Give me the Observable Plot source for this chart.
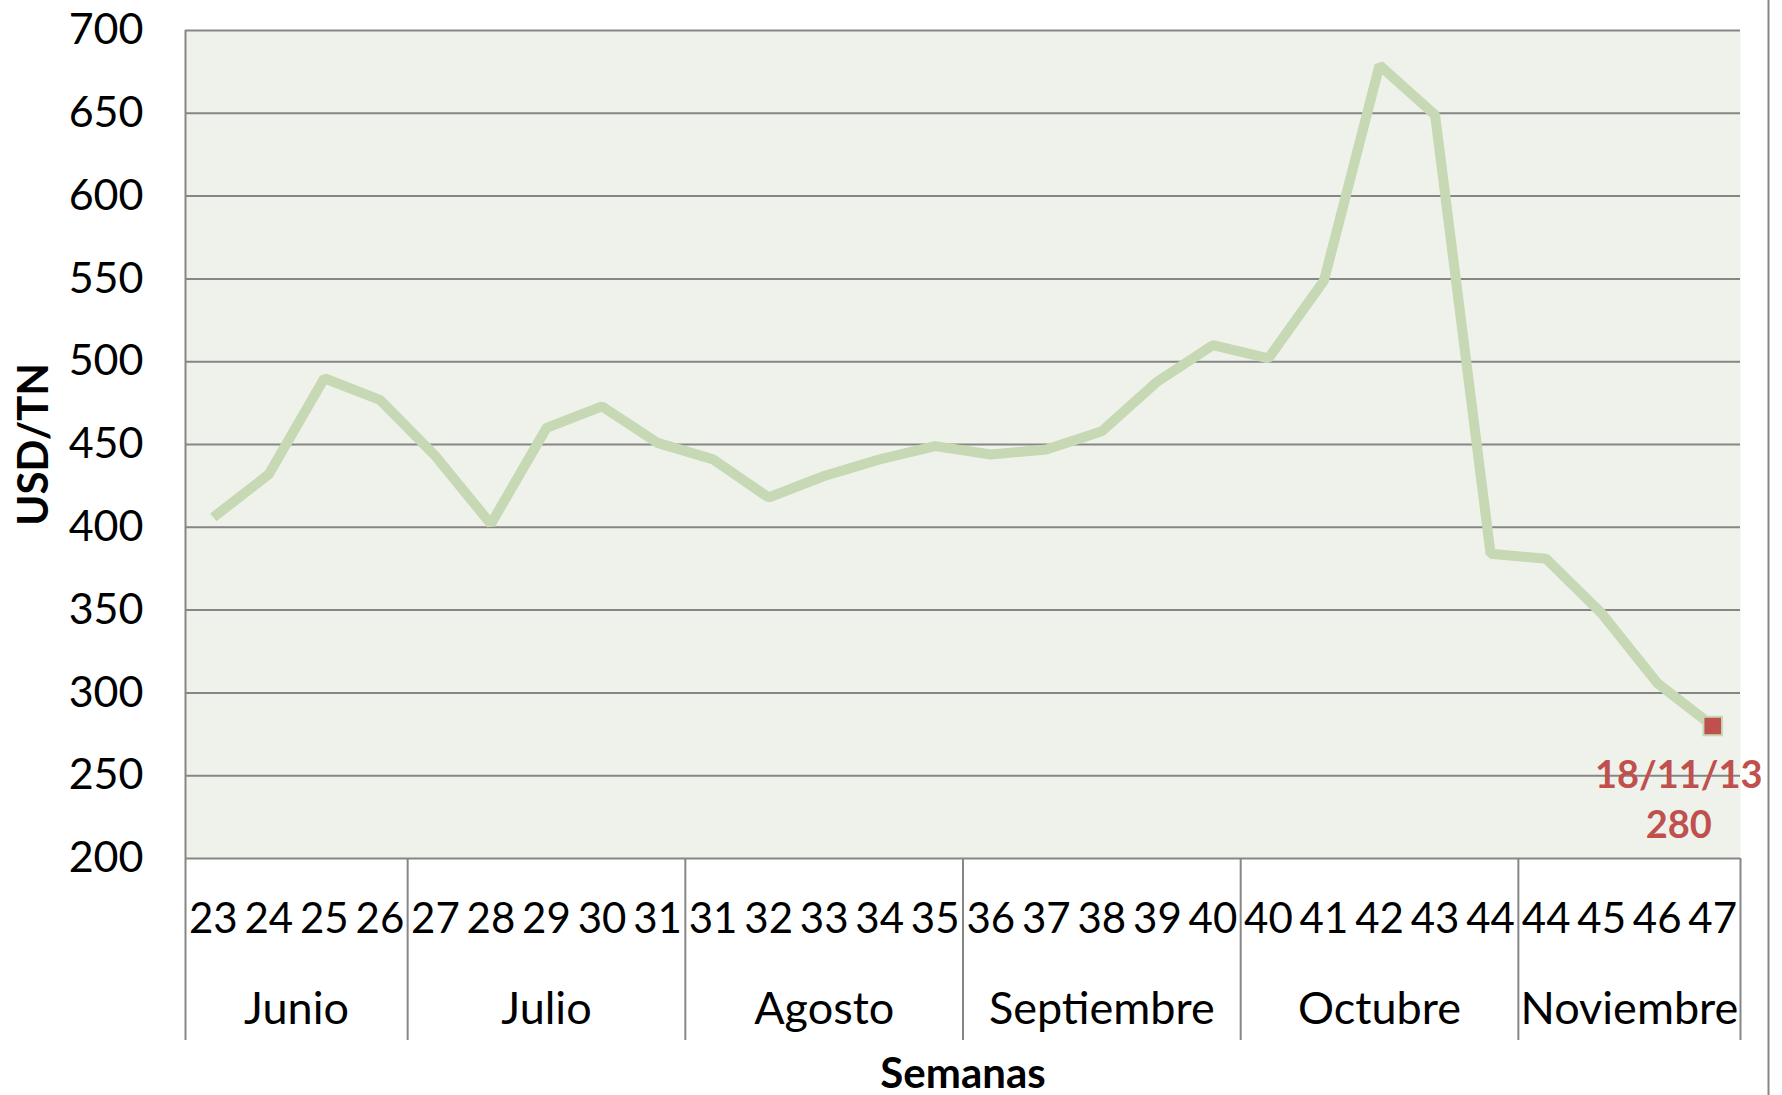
<!DOCTYPE html>
<html>
<head>
<meta charset="utf-8">
<script src="https://cdn.jsdelivr.net/npm/d3@7"></script>
<script src="https://cdn.jsdelivr.net/npm/@observablehq/plot@0.6"></script>
<style>
  html, body { margin: 0; padding: 0; background: #fff; }
  #chart svg { display: block; }
</style>
</head>
<body>
<div id="chart"></div>
<script>
// Week labels (categories), in order
const weeks = ["23","24","25","26","27","28","29","30","31","31","32","33","34","35","36","37","38","39","40","40","41","42","43","44","44","45","46","47"];
// Prices USD/TN
const prices = [406,432,490,477,443,402,460,473,451,441,418,431,441,449,444,447,458,488,510,502,549,679,649,384,381,348,306,280];
// Month groups
const months = ["Junio","Julio","Agosto","Septiembre","Octubre","Noviembre"];
const monthCounts = [4,5,5,5,5,4];
// Y ticks
const yTicks = [200,250,300,350,400,450,500,550,600,650,700];
// Last point annotation
const lastDate = "18/11/13";

const data = weeks.map((w, i) => ({i, week: w, price: prices[i]}));
let start = 0;
const monthData = months.map((m, k) => {
  const s = start, e = start + monthCounts[k] - 1;
  start += monthCounts[k];
  return {month: m, mid: (s + e) / 2, lo: s - 0.5, hi: e + 0.5};
});
const boundaries = [monthData[0].lo, ...monthData.map(d => d.hi)];
const last = data[data.length - 1];

const font = "Lato, 'Open Sans', sans-serif";
const grid = "#868686";
const red = "#C0504D";
const lineColor = "#C6D8B4";

const chart = Plot.plot({
  width: 1782,
  height: 1095,
  marginLeft: 185,
  marginRight: 42,
  marginTop: 30,
  marginBottom: 237,
  style: {fontFamily: font, color: "#000", background: "#fff"},
  x: {domain: [-0.5, weeks.length - 0.5], axis: null},
  y: {domain: [200, 700], axis: null},
  marks: [
    Plot.frame({fill: "#EFF2EA", stroke: null}),
    Plot.ruleY(yTicks, {stroke: grid, strokeWidth: 2}),
    // month separators extending into the category axis area
    Plot.ruleX(boundaries, {stroke: grid, strokeWidth: 2, insetTop: 828, insetBottom: -182}),
    Plot.ruleX([boundaries[0]], {stroke: grid, strokeWidth: 2}),
    // outer chart border on the right
    Plot.ruleX([boundaries[boundaries.length - 1]], {stroke: grid, strokeWidth: 2, dx: 28, insetTop: -30, insetBottom: -237}),
    // y tick labels
    Plot.text(yTicks, {y: d => d, text: d => String(d), frameAnchor: "left", textAnchor: "end", dx: -42, fontSize: 43, fill: "#000"}),
    // line
    Plot.line(data, {x: "i", y: "price", stroke: lineColor, strokeWidth: 10, strokeLinejoin: "miter", strokeLinecap: "butt"}),
    // last point marker
    Plot.dot([last], {x: "i", y: "price", symbol: "square", r: 10.5, fill: red, stroke: lineColor, strokeWidth: 2}),
    Plot.text([last], {x: "i", y: "price", text: d => lastDate + "\n" + d.price, fill: red, fontWeight: "bold", fontSize: 38, lineHeight: 1.33, dx: -34, dy: 71}),
    // week labels
    Plot.text(data, {x: "i", text: "week", frameAnchor: "bottom", dy: 74, fontSize: 42, fill: "#000"}),
    // month labels
    Plot.text(monthData, {x: "mid", text: "month", frameAnchor: "bottom", dy: 165, fontSize: 45, fill: "#000"}),
    // axis titles
    Plot.text(["Semanas"], {frameAnchor: "bottom", dy: 229, fontSize: 42, fontWeight: "bold", fill: "#000"}),
    Plot.text(["USD/TN"], {frameAnchor: "left", textAnchor: "middle", dx: -151, rotate: -90, fontSize: 42, fontWeight: "bold", fill: "#000"})
  ]
});
document.getElementById("chart").appendChild(chart);
</script>
</body>
</html>
